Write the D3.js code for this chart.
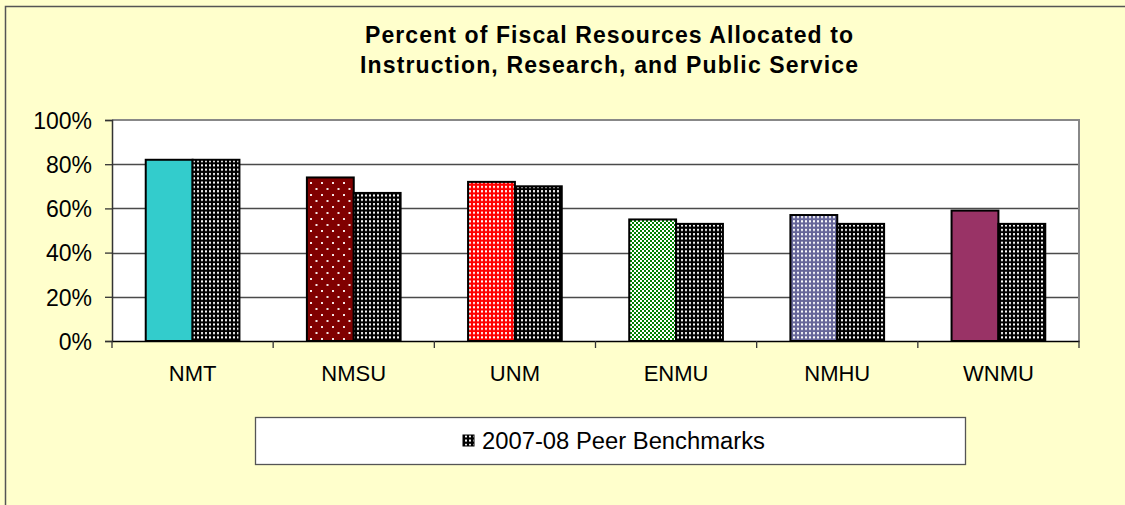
<!DOCTYPE html>
<html><head><meta charset="utf-8">
<script src="https://cdn.jsdelivr.net/npm/d3@7"></script>
<style>
body{margin:0;background:#FFFFCC;overflow:hidden;}
text{font-family:"Liberation Sans",Arial,sans-serif;fill:#000;}
</style>
</head><body>
<svg id="c" width="1125" height="505"></svg>
<script>
// ---- data ----
const categories = ["NMT", "NMSU", "UNM", "ENMU", "NMHU", "WNMU"];
const institutionValues = [82, 74, 72, 55, 57, 59];
const peerValues = [82, 67, 70, 53, 53, 53];
const yTicks = [0, 20, 40, 60, 80, 100];
const titleLines = ["Percent of Fiscal Resources Allocated to", "Instruction, Research, and Public Service"];
const legendLabel = "2007-08 Peer Benchmarks";

// ---- styles ----
const instFill = {NMT:"#33CCCC", NMSU:"url(#pNMSU)", UNM:"url(#pUNM)", ENMU:"url(#pENMU)", NMHU:"url(#pNMHU)", WNMU:"#993366"};
const peerFill = "url(#pPeer)";

const svg = d3.select("#c");
const W = 1125, H = 505;
const plot = {left:112, right:1079, top:120, bottom:341};

// background & frame
svg.append("rect").attr("x",0).attr("y",0).attr("width",W).attr("height",H).attr("fill","#FFFFCC");
svg.append("path").attr("d",`M5.5,${H+5} V6.5 H${W+5}`).attr("fill","none").attr("stroke","#555").attr("stroke-width",1.5);

// patterns
const defs = svg.append("defs");
function dotPattern(id, bg, w, h, dots, fg="#fff") {
  const p = defs.append("pattern").attr("id",id).attr("patternUnits","userSpaceOnUse")
    .attr("width",w).attr("height",h);
  p.append("rect").attr("width",w).attr("height",h).attr("fill",bg);
  dots.forEach(d => p.append("rect").attr("x",d[0]).attr("y",d[1]).attr("width",d[2]).attr("height",d[3]).attr("fill",fg));
}
dotPattern("pPeer", "#000", 4, 4.3, [[1,1,2,2]]);
dotPattern("pUNM", "#FF0000", 4, 4.3, [[1,1,2,2]]);
dotPattern("pNMHU", "#666699", 4, 4.3, [[1,1,2,2]]);
dotPattern("pENMU", "#008000", 4, 4, [[0,0,2,2],[2,2,2,2]]);
dotPattern("pNMSU", "#800000", 11, 12, [[2,2,2,2],[7.5,8,2,2]], "#f4e4e4");

// scales
const x0 = d3.scaleBand().domain(categories).range([plot.left, plot.right]).paddingInner(0).paddingOuter(0);
const x1 = d3.scaleBand().domain(["inst","peer"]).range([0, x0.bandwidth()]).paddingInner(0).paddingOuter(0.72);
const y = d3.scaleLinear().domain([0,100]).range([plot.bottom, plot.top]);

// plot area
svg.append("rect").attr("x",plot.left).attr("y",plot.top).attr("width",plot.right-plot.left).attr("height",plot.bottom-plot.top).attr("fill","#fff");

// gridlines
svg.append("g").selectAll("line").data(yTicks.filter(t => t>0 && t<100)).join("line")
  .attr("x1",plot.left).attr("x2",plot.right)
  .attr("y1",d=>Math.round(y(d))+0.5).attr("y2",d=>Math.round(y(d))+0.5)
  .attr("stroke","#4a4a4a").attr("stroke-width",1.3);

// plot border top/right
svg.append("path").attr("d",`M${plot.left},${plot.top} H${plot.right} V${plot.bottom}`)
  .attr("fill","none").attr("stroke","#888").attr("stroke-width",2);

// bars
const rows = categories.map((c,i)=>({c, inst:institutionValues[i], peer:peerValues[i]}));
const g = svg.append("g");
rows.forEach(r => {
  g.append("rect").attr("x",x0(r.c)+x1("inst")).attr("y",y(r.inst))
    .attr("width",x1.bandwidth()).attr("height",y(0)-y(r.inst))
    .attr("fill",instFill[r.c]).attr("stroke","#000").attr("stroke-width",2);
  g.append("rect").attr("x",x0(r.c)+x1("peer")).attr("y",y(r.peer))
    .attr("width",x1.bandwidth()).attr("height",y(0)-y(r.peer))
    .attr("fill",peerFill).attr("stroke","#000").attr("stroke-width",2);
});

// y axis
const yAxis = svg.append("g").attr("transform",`translate(${plot.left},0)`)
  .call(d3.axisLeft(y).tickValues(yTicks).tickFormat(d=>d+"%").tickSize(7).tickPadding(13));
yAxis.select(".domain").attr("stroke","#333").attr("stroke-width",1.5);
yAxis.selectAll(".tick line").attr("stroke","#333").attr("stroke-width",1.3);
yAxis.selectAll("text").attr("font-size","23px").attr("font-family","Liberation Sans, Arial, sans-serif").attr("dy","0.36em");

// x axis
const xAxis = svg.append("g").attr("transform",`translate(0,${plot.bottom})`)
  .call(d3.axisBottom(x0).tickSize(0).tickPadding(24));
xAxis.select(".domain").attr("stroke","#000").attr("stroke-width",1.5);
xAxis.selectAll("text").attr("font-size","22px").attr("font-family","Liberation Sans, Arial, sans-serif");
const bounds = categories.map(c => x0(c)).concat([x0.range()[1]]);
xAxis.selectAll(".bound").data(bounds).join("line").attr("class","bound")
  .attr("x1",d=>d).attr("x2",d=>d).attr("y1",0).attr("y2",7)
  .attr("stroke","#333").attr("stroke-width",1.3);

// title
const tcx = 609;
svg.append("g").selectAll("text").data(titleLines).join("text")
  .attr("x",tcx).attr("y",(d,i)=>43+i*30).attr("text-anchor","middle")
  .attr("font-size","23px").attr("font-weight","bold")
  .attr("textLength",(d,i)=>i===0?488:498).attr("lengthAdjust","spacing")
  .text(d=>d);

// legend
const lg = svg.append("g");
lg.append("rect").attr("x",255.5).attr("y",417.5).attr("width",710).attr("height",47)
  .attr("fill","#fff").attr("stroke","#555").attr("stroke-width",1.3);
lg.append("rect").attr("x",463).attr("y",435).attr("width",11).attr("height",11)
  .attr("fill",peerFill).attr("stroke","#000").attr("stroke-width",1);
lg.append("text").attr("x",482).attr("y",449).attr("font-size","23px")
  .attr("textLength",283).attr("lengthAdjust","spacingAndGlyphs").text(legendLabel);
</script>
</body></html>
